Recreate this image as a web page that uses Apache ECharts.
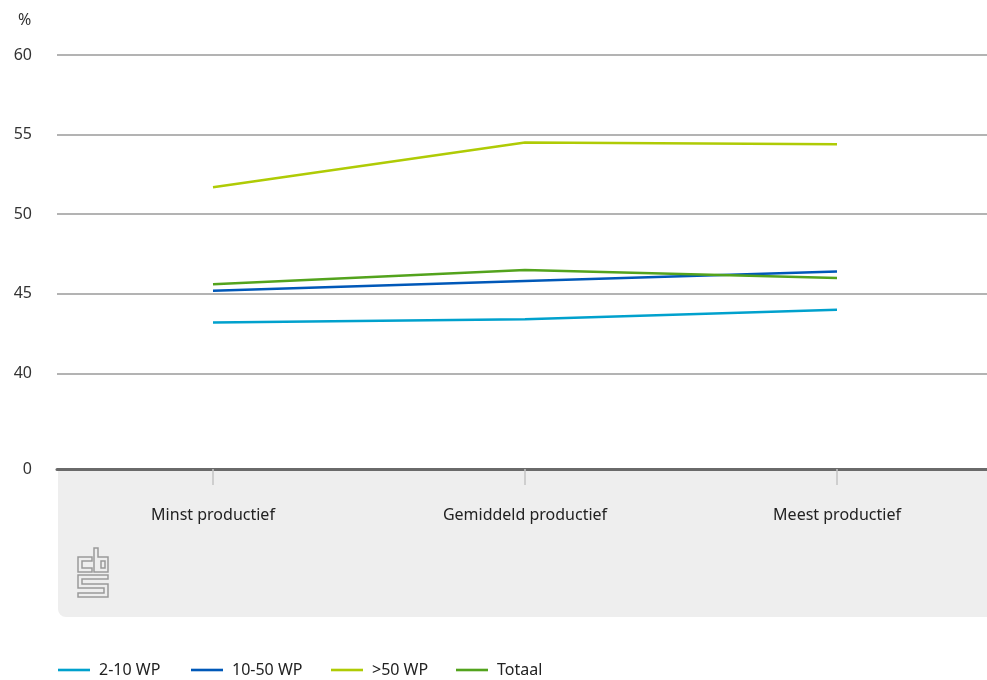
<!DOCTYPE html>
<html>
<head>
<meta charset="utf-8">
<script src="https://cdn.jsdelivr.net/npm/echarts@6/dist/echarts.min.js"></script>
<style>
  html, body { margin: 0; padding: 0; background: #ffffff; }
  #chart { width: 987px; height: 680px; }
</style>
</head>
<body>
<div id="chart"></div>
<script>
// Categories along the x axis
const categories = ['Minst productief', 'Gemiddeld productief', 'Meest productief'];

// Share per company size class (%)
const wp2to10 = [43.2, 43.4, 44.0];
const wp10to50 = [45.2, 45.8, 46.4];
const wp50plus = [51.7, 54.5, 54.4];
const totaal = [45.6, 46.5, 46.0];

const seriesNames = ['2-10 WP', '10-50 WP', '>50 WP', 'Totaal'];
const seriesColors = ['#00a1cd', '#0058b8', '#afcb05', '#53a31d'];

// Broken value axis: the bottom of the axis is labelled 0, the rest runs 40..60
const axisBottom = 34;
const axisTop = 60;
const gridValues = [40, 45, 50, 55, 60];

const FONT = '"Noto Sans", sans-serif';

const chart = echarts.init(document.getElementById('chart'), null, { renderer: 'canvas' });

const seriesData = [wp2to10, wp10to50, wp50plus, totaal];

const series = seriesNames.map((name, i) => ({
  name: name,
  type: 'line',
  data: seriesData[i],
  symbol: 'none',
  z: 5,
  lineStyle: { color: seriesColors[i], width: 2.5 },
  itemStyle: { color: seriesColors[i] }
}));

// horizontal reference lines
series.push({
  name: 'grid',
  type: 'line',
  data: [],
  silent: true,
  z: 1,
  markLine: {
    silent: true,
    symbol: 'none',
    label: { show: false },
    animation: false,
    lineStyle: { color: '#9a9a9a', width: 1.5, type: 'solid' },
    data: gridValues.map(v => ({ yAxis: v }))
  }
});

// one legend block per series, laid out in a row
const legendLeft = [53, 186, 326, 451];
const legends = seriesNames.map((name, i) => ({
  data: [name],
  left: legendLeft[i],
  top: 657,
  orient: 'horizontal',
  itemWidth: 32,
  itemHeight: 14,
  icon: 'path://M0,6 L32,6 L32,8.6 L0,8.6 Z',
  itemStyle: { color: seriesColors[i] },
  selectedMode: false,
  textStyle: { fontFamily: FONT, fontSize: 16, color: '#222', padding: [0, 0, 0, 4] }
}));

// CBS mark drawn as outlined shapes
const logoStroke = { stroke: '#9a9a9a', lineWidth: 1.5, fill: 'none' };
const logoParts = [
  [[92,557],[78,557],[78,572],[92,572],[92,568],[82,568],[82,561],[92,561]],
  [[94,548],[98,548],[98,557],[108,557],[108,572],[94,572]],
  [[101,561],[105,561],[105,568],[101,568]],
  [[108,575],[78,575],[78,588],[104,588],[104,593],[78,593],[78,597],[108,597],[108,584],[82,584],[82,579],[108,579]]
];

const option = {
  backgroundColor: '#ffffff',
  animation: false,
  title: {
    text: '%',
    left: 13,
    top: 7,
    textStyle: { fontFamily: FONT, fontSize: 16, fontWeight: 'normal', color: '#333' }
  },
  legend: legends,
  grid: { left: 57, right: -6, top: 55, bottom: 211, containLabel: false, outerBoundsMode: 'none' },
  graphic: [
    {
      type: 'rect',
      z: -10,
      shape: { x: 58, y: 469, width: 940, height: 148, r: [0, 0, 0, 8] },
      style: { fill: '#eeeeee' },
      silent: true
    }
  ].concat(logoParts.map(pts => ({
    type: 'polygon',
    z: 10,
    shape: { points: pts },
    style: logoStroke,
    silent: true
  }))),
  xAxis: {
    type: 'category',
    data: categories,
    boundaryGap: true,
    axisLine: { show: true, lineStyle: { color: '#6a6a6a', width: 3 } },
    axisTick: { show: true, alignWithLabel: true, length: 16, lineStyle: { color: '#c4c4c4', width: 1.5 } },
    axisLabel: { margin: 38, fontFamily: FONT, fontSize: 16, color: '#222' },
    splitLine: { show: false }
  },
  yAxis: {
    type: 'value',
    min: axisBottom,
    max: axisTop,
    interval: 1,
    axisLine: { show: false },
    axisTick: { show: false },
    splitLine: { show: false },
    axisLabel: {
      margin: 25,
      fontFamily: FONT,
      fontSize: 16,
      color: '#333',
      formatter: function (v) {
        if (v === axisBottom) return '0';
        return gridValues.indexOf(v) >= 0 ? String(v) : '';
      }
    }
  },
  series: series
};

chart.setOption(option);
</script>
</body>
</html>
